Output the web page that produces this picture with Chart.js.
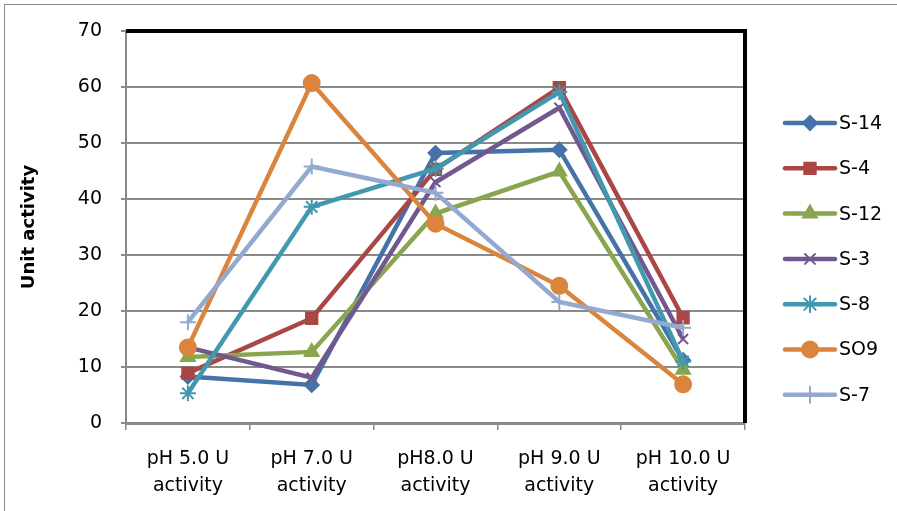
<!DOCTYPE html>
<html>
<head>
<meta charset="utf-8">
<script src="https://cdn.jsdelivr.net/npm/chart.js@4/dist/chart.umd.min.js"></script>
<style>
  html, body { margin: 0; padding: 0; background: #fff; }
  #wrap { width: 897px; height: 511px; }
</style>
</head>
<body>
<div id="wrap"><canvas id="chart" width="897" height="511"></canvas></div>
<script>
// categories and values
const categories = [
  ['pH 5.0 U', 'activity'],
  ['pH 7.0 U', 'activity'],
  ['pH8.0 U', 'activity'],
  ['pH 9.0 U', 'activity'],
  ['pH 10.0 U', 'activity']
];
const seriesNames = ['S-14', 'S-4', 'S-12', 'S-3', 'S-8', 'SO9', 'S-7'];
const s14 = [8.3, 6.8, 48.2, 48.8, 11.2];
const s4 = [8.9, 18.7, 45.3, 59.9, 18.8];
const s12 = [11.8, 12.7, 37.4, 44.9, 9.5];
const s3 = [13.5, 8.1, 43.0, 56.3, 15.0];
const s8 = [5.3, 38.6, 45.4, 59.1, 11.0];
const so9 = [13.5, 60.7, 35.6, 24.5, 6.9];
const s7 = [18.0, 45.8, 41.1, 21.6, 17.0];
const yTicks = [0, 10, 20, 30, 40, 50, 60, 70];

const colors = ['#4572A7', '#AA4643', '#89A54E', '#71588F', '#4198AF', '#DB843D', '#93A9CF'];
const markers = ['rectRot', 'rect', 'triangle', 'crossRot', 'star', 'circle', 'cross'];
const markerSize = [7, 8, 8, 7, 8, 8, 8];
const values = [s14, s4, s12, s3, s8, so9, s7];

const font = "'DejaVu Sans', 'Open Sans', sans-serif";

// outer frame, black plot border and the legend with line + marker
const decor = {
  id: 'decor',
  beforeDraw(chart) {
    const ctx = chart.ctx;
    ctx.save();
    ctx.fillStyle = '#fff';
    ctx.fillRect(0, 0, chart.width, chart.height);
    ctx.strokeStyle = '#8a8a8a';
    ctx.lineWidth = 1;
    ctx.strokeRect(4.5, 4.5, chart.width + 10, chart.height + 10);
    ctx.restore();
  },
  afterDatasetsDraw(chart) {
    const ctx = chart.ctx;
    const a = chart.chartArea;
    ctx.save();
    ctx.strokeStyle = '#000';
    ctx.lineWidth = 4;
    ctx.beginPath();
    ctx.moveTo(a.left, a.top);
    ctx.lineTo(a.right, a.top);
    ctx.lineTo(a.right, a.bottom);
    ctx.stroke();

    ctx.font = '19px ' + font;
    ctx.textBaseline = 'middle';
    chart.data.datasets.forEach((ds, i) => {
      const y = 123 + i * 45.3;
      ctx.strokeStyle = ds.borderColor;
      ctx.fillStyle = ds.borderColor;
      ctx.lineWidth = 4.5;
      ctx.lineCap = 'round';
      ctx.beginPath();
      ctx.moveTo(785, y);
      ctx.lineTo(835, y);
      ctx.stroke();
      ctx.lineWidth = 2;
      Chart.helpers.drawPoint(ctx, {
        pointStyle: ds.pointStyle,
        radius: ds.pointRadius,
        borderWidth: 2
      }, 810, y);
      ctx.fillStyle = '#000';
      ctx.fillText(ds.label, 839, y + 1);
    });
    ctx.restore();
  }
};

// later series are drawn on top, as in the original
const datasets = seriesNames.map((name, i) => ({
  label: name,
  data: values[i],
  order: -i,
  borderColor: colors[i],
  backgroundColor: colors[i],
  pointBorderColor: colors[i],
  pointBackgroundColor: colors[i],
  borderWidth: 4.5,
  pointStyle: markers[i],
  pointRadius: markerSize[i],
  pointBorderWidth: 2,
  tension: 0,
  clip: false
}));

new Chart(document.getElementById('chart'), {
  type: 'line',
  data: { labels: categories, datasets: datasets },
  plugins: [decor],
  options: {
    responsive: false,
    animation: false,
    layout: { padding: { left: 0, right: 152, top: 31, bottom: 0 } },
    plugins: { legend: { display: false }, tooltip: { enabled: false } },
    scales: {
      x: {
        offset: true,
        grid: {
          offset: true,
          drawOnChartArea: false,
          drawTicks: true,
          tickLength: 7,
          color: '#8a8a8a',
          lineWidth: 1.5
        },
        border: { color: '#8a8a8a', width: 3 },
        ticks: {
          color: '#000',
          font: { family: font, size: 19, lineHeight: 1.4 },
          padding: 16,
          maxRotation: 0
        },
        afterFit(scale) { scale.height = 88; }
      },
      y: {
        min: 0,
        max: 70,
        afterBuildTicks(scale) { scale.ticks = yTicks.map(v => ({ value: v })); },
        grid: {
          color: '#8a8a8a',
          lineWidth: 2,
          drawTicks: true,
          tickLength: 5
        },
        border: { color: '#8a8a8a', width: 2 },
        ticks: {
          color: '#000',
          font: { family: font, size: 19 },
          padding: 19
        },
        title: {
          display: true,
          text: 'Unit activity',
          color: '#000',
          font: { family: font, size: 18, weight: 'bold' },
          padding: { top: 19, bottom: 0 }
        },
        afterFit(scale) { scale.width = 126; }
      }
    }
  }
});
</script>
</body>
</html>
